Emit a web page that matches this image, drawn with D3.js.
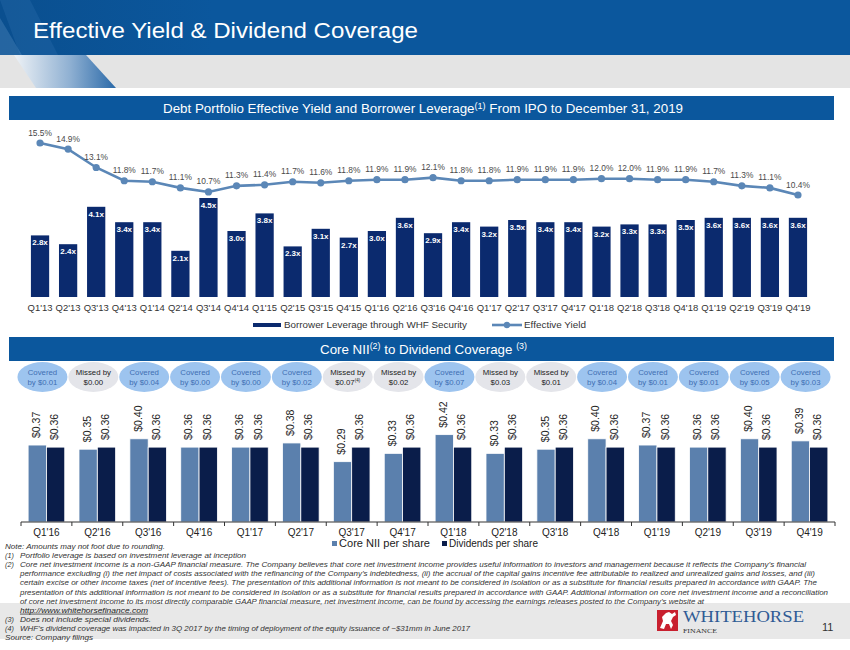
<!DOCTYPE html>
<html><head><meta charset="utf-8">
<script src="https://cdn.jsdelivr.net/npm/d3@7"></script>
<style>
body{margin:0;background:#fff}
svg{display:block;font-family:"Liberation Sans",Arial,sans-serif}
</style>
</head><body>
<svg id="c" width="850" height="650"></svg>
<script>
// ---------- DATA ----------
const quarters = ["Q1'13","Q2'13","Q3'13","Q4'13","Q1'14","Q2'14","Q3'14","Q4'14","Q1'15","Q2'15","Q3'15","Q4'15","Q1'16","Q2'16","Q3'16","Q4'16","Q1'17","Q2'17","Q3'17","Q4'17","Q1'18","Q2'18","Q3'18","Q4'18","Q1'19","Q2'19","Q3'19","Q4'19"];
const leverage = [2.8,2.4,4.1,3.4,3.4,2.1,4.5,3.0,3.8,2.3,3.1,2.7,3.0,3.6,2.9,3.4,3.2,3.5,3.4,3.4,3.2,3.3,3.3,3.5,3.6,3.6,3.6,3.6];
const effYield = [15.5,14.9,13.1,11.8,11.7,11.1,10.7,11.3,11.4,11.7,11.6,11.8,11.9,11.9,12.1,11.8,11.8,11.9,11.9,11.9,12.0,12.0,11.9,11.9,11.7,11.3,11.1,10.4];

const covQuarters = ["Q1'16","Q2'16","Q3'16","Q4'16","Q1'17","Q2'17","Q3'17","Q4'17","Q1'18","Q2'18","Q3'18","Q4'18","Q1'19","Q2'19","Q3'19","Q4'19"];
const coreNII = [0.37,0.35,0.40,0.36,0.36,0.38,0.29,0.33,0.42,0.33,0.35,0.40,0.37,0.36,0.40,0.39];
const dividends = [0.36,0.36,0.36,0.36,0.36,0.36,0.36,0.36,0.36,0.36,0.36,0.36,0.36,0.36,0.36,0.36];
const coverageStatus = ["covered","missed","covered","covered","covered","covered","missed","missed","covered","missed","missed","covered","covered","covered","covered","covered"];
const coverageLine1 = ["Covered","Missed by","Covered","Covered","Covered","Covered","Missed by","Missed by","Covered","Missed by","Missed by","Covered","Covered","Covered","Covered","Covered"];
const coverageLine2 = ["by $0.01","$0.00","by $0.04","by $0.00","by $0.00","by $0.02","$0.07","$0.02","by $0.07","$0.03","$0.01","by $0.04","by $0.01","by $0.01","by $0.05","by $0.03"];
const coverageNote = ["","","","","","","(4)","","","","","","","","",""];

const title = "Effective Yield & Dividend Coverage";
const footLines = [
  {m:"",   t:"Note: Amounts may not foot due to rounding.", w:160, x0:5},
  {m:"(1)",t:"Portfolio leverage is based on investment leverage at inception", w:226},
  {m:"(2)",t:"Core net investment income is a non-GAAP financial measure. The Company believes that core net investment income provides useful information to investors and management because it reflects the Company\u2019s financial", w:786},
  {m:"",   t:"performance excluding (i) the net impact of costs associated with the refinancing of the Company\u2019s indebtedness, (ii) the accrual of the capital gains incentive fee attributable to realized and unrealized gains and losses, and (iii)", w:795},
  {m:"",   t:"certain excise or other income taxes (net of incentive fees). The presentation of this additional information is not meant to be considered in isolation or as a substitute for financial results prepared in accordance with GAAP. The", w:797},
  {m:"",   t:"presentation of this additional information is not meant to be considered in isolation or as a substitute for financial results prepared in accordance with GAAP. Additional information on core net investment income and a reconciliation", w:808},
  {m:"",   t:"of core net investment income to its most directly comparable GAAP financial measure, net investment income, can be found by accessing the earnings releases posted to the Company\u2019s website at", w:684},
  {m:"",   t:"http://www.whitehorsefinance.com", w:128, u:true},
  {m:"(3)",t:"Does not include special dividends.", w:131},
  {m:"(4)",t:"WHF\u2019s dividend coverage was impacted in 3Q 2017 by the timing of deployment of the equity issuance of ~$31mm in June 2017", w:450},
  {m:"",   t:"Source: Company filings", w:88, x0:5}
];

// ---------- SETUP ----------
const svg = d3.select("#c");
const BLUE = "#0b579d";
const defs = svg.append("defs");
const g1 = defs.append("linearGradient").attr("id","shard").attr("x1","0").attr("x2","1").attr("y1","0").attr("y2","0");
g1.append("stop").attr("offset","0").attr("stop-color","#eef2f6");
g1.append("stop").attr("offset","0.55").attr("stop-color","#8fb0d2");
g1.append("stop").attr("offset","1").attr("stop-color","#2a69a8");
const g2 = defs.append("linearGradient").attr("id","hdr").attr("x1","0").attr("x2","1").attr("y1","0").attr("y2","0");
g2.append("stop").attr("offset","0").attr("stop-color","#0a4f8f");
g2.append("stop").attr("offset","0.25").attr("stop-color","#0b579d");
g2.append("stop").attr("offset","1").attr("stop-color","#0b579d");

// ---------- HEADER ----------
svg.append("rect").attr("x",0).attr("y",0).attr("width",850).attr("height",55).attr("fill","url(#hdr)");
svg.append("path").attr("d","M0,0 L30,0 L58,55 L20,55 Z").attr("fill","#2c6cab").attr("opacity",0.35);
svg.append("path").attr("d","M0,18 L22,55 L0,55 Z").attr("fill","#5a8fc2").attr("opacity",0.35);
svg.append("rect").attr("x",0).attr("y",55).attr("width",850).attr("height",33).attr("fill","#e4e4e4");
svg.append("path").attr("d","M14,55 L86,55 L116,88 L36,88 Z").attr("fill","url(#shard)");
svg.append("text").attr("x",33).attr("y",38).attr("fill","#fff").attr("font-size",22)
  .attr("textLength",385).attr("lengthAdjust","spacingAndGlyphs").text(title);

// Section bar 1
svg.append("rect").attr("x",9).attr("y",96).attr("width",825).attr("height",24).attr("fill",BLUE);
const st1 = svg.append("text").attr("x",163).attr("y",112.5).attr("fill","#fff").attr("font-weight","normal")
  .attr("font-size",12.5).attr("textLength",520).attr("lengthAdjust","spacingAndGlyphs");
st1.append("tspan").text("Debt Portfolio Effective Yield and Borrower Leverage");
st1.append("tspan").attr("font-size",8.5).attr("dy",-4).text("(1)");
st1.append("tspan").attr("dy",4).text(" From IPO to December 31, 2019");

// ---------- TOP CHART ----------
const xTop = d3.scaleBand().domain(quarters).range([26,812]).paddingInner(0.35).paddingOuter(0.175);
const yLev = d3.scaleLinear().domain([0,5]).range([297,187]);
const yYld = d3.scaleLinear().domain([8,16]).range([219.5,137.9]);

const topG = svg.append("g");
topG.selectAll("rect.lev").data(quarters).join("rect").attr("class","lev")
  .attr("x",d=>xTop(d)).attr("width",xTop.bandwidth())
  .attr("y",(d,i)=>yLev(leverage[i])).attr("height",(d,i)=>yLev(0)-yLev(leverage[i]))
  .attr("fill","#0b2a6e");
topG.selectAll("text.levl").data(quarters).join("text").attr("class","levl")
  .attr("x",d=>xTop(d)+xTop.bandwidth()/2).attr("y",(d,i)=>yLev(leverage[i])+10)
  .attr("text-anchor","middle").attr("fill","#fff").attr("font-size",8).attr("font-weight","bold")
  .text((d,i)=>leverage[i].toFixed(1)+"x");

// x axis labels
const axTop = d3.axisBottom(xTop).tickSize(0).tickPadding(6);
const axg = svg.append("g").attr("transform","translate(0,299)").call(axTop);
axg.select(".domain").remove();
axg.selectAll("text").attr("font-size",8.3).attr("fill","#333").attr("font-family","'Liberation Sans',Arial,sans-serif")
  .attr("textLength",25).attr("lengthAdjust","spacingAndGlyphs");

// yield line
const line = d3.line().x((d,i)=>xTop(quarters[i])+xTop.bandwidth()/2).y(d=>yYld(d));
topG.append("path").datum(effYield).attr("d",line).attr("fill","none").attr("stroke","#5b87b7").attr("stroke-width",2.6);
topG.selectAll("circle.y").data(effYield).join("circle").attr("class","y")
  .attr("cx",(d,i)=>xTop(quarters[i])+xTop.bandwidth()/2).attr("cy",d=>yYld(d)).attr("r",3.6).attr("fill","#5b87b7");
topG.selectAll("text.yl").data(effYield).join("text").attr("class","yl")
  .attr("x",(d,i)=>xTop(quarters[i])+xTop.bandwidth()/2).attr("y",d=>yYld(d)-7.5)
  .attr("text-anchor","middle").attr("fill","#4a4a4a").attr("font-size",8.4)
  .text(d=>d.toFixed(1)+"%");

// legend top
svg.append("line").attr("x1",253).attr("x2",281).attr("y1",325).attr("y2",325).attr("stroke","#0b2a6e").attr("stroke-width",4);
svg.append("text").attr("x",284).attr("y",328).attr("font-size",8.3).attr("fill","#333")
  .attr("textLength",183).attr("lengthAdjust","spacingAndGlyphs").text("Borrower Leverage through WHF Security");
svg.append("line").attr("x1",492).attr("x2",522).attr("y1",325).attr("y2",325).attr("stroke","#5b87b7").attr("stroke-width",2.6);
svg.append("circle").attr("cx",507).attr("cy",325).attr("r",3.2).attr("fill","#5b87b7");
svg.append("text").attr("x",524).attr("y",328).attr("font-size",8.3).attr("fill","#333")
  .attr("textLength",62).attr("lengthAdjust","spacingAndGlyphs").text("Effective Yield");

// Section bar 2
svg.append("rect").attr("x",9).attr("y",337).attr("width",825).attr("height",24).attr("fill",BLUE);
const st2 = svg.append("text").attr("x",320).attr("y",354).attr("fill","#fff").attr("font-size",13.5).attr("font-weight","normal")
  .attr("textLength",207).attr("lengthAdjust","spacingAndGlyphs");
st2.append("tspan").text("Core NII");
st2.append("tspan").attr("font-size",9).attr("dy",-5).text("(2)");
st2.append("tspan").attr("dy",5).text(" to Dividend Coverage ");
st2.append("tspan").attr("font-size",9).attr("dy",-5).text("(3)");

// ---------- BOTTOM CHART ----------
const xB = d3.scaleBand().domain(covQuarters).range([21,835]).paddingInner(0.28).paddingOuter(0.14);
const xSub = d3.scaleBand().domain(["core","div"]).range([0,xB.bandwidth()]);
const yB = d3.scaleLinear().domain([0,0.5]).range([522,418]);

// coverage ellipses
const ell = svg.append("g").selectAll("g").data(covQuarters).join("g")
  .attr("transform",d=>`translate(${xB(d)+xB.bandwidth()/2-4},377)`);
ell.append("ellipse").attr("rx",25).attr("ry",15)
  .attr("fill",(d,i)=>coverageStatus[i]==="covered"?"#9dc4ef":"#e4e5ea");
ell.append("text").attr("y",-2.5).attr("text-anchor","middle").attr("font-size",7.8)
  .attr("fill",(d,i)=>coverageStatus[i]==="covered"?"#3f6fb3":"#222")
  .text((d,i)=>coverageLine1[i]);
const l2 = ell.append("text").attr("y",7.5).attr("text-anchor","middle").attr("font-size",7.8)
  .attr("fill",(d,i)=>coverageStatus[i]==="covered"?"#3f6fb3":"#222");
l2.append("tspan").text((d,i)=>coverageLine2[i]);
l2.append("tspan").attr("font-size",4.5).attr("dy",-2.5).text((d,i)=>coverageNote[i]);

// bars
const grp = svg.append("g").selectAll("g").data(covQuarters).join("g").attr("transform",d=>`translate(${xB(d)},0)`);
grp.append("rect").attr("x",xSub("core")).attr("width",xSub.bandwidth())
  .attr("y",(d,i)=>yB(coreNII[i])).attr("height",(d,i)=>yB(0)-yB(coreNII[i]))
  .attr("fill","#5b80ad").attr("stroke","#fff").attr("stroke-width",0.8);
grp.append("rect").attr("x",xSub("div")).attr("width",xSub.bandwidth())
  .attr("y",(d,i)=>yB(dividends[i])).attr("height",(d,i)=>yB(0)-yB(dividends[i]))
  .attr("fill","#0a1d4a").attr("stroke","#fff").attr("stroke-width",0.8);
function vlabel(key, arr){
  grp.append("text")
    .attr("transform",(d,i)=>`translate(${xSub(key)+xSub.bandwidth()/2+2.5},${yB(arr[i])-7}) rotate(-90)`)
    .attr("font-size",10.5).attr("fill","#222")
    .text((d,i)=>"$"+arr[i].toFixed(2));
}
vlabel("core",coreNII);
vlabel("div",dividends);

// axis
const axB = d3.axisBottom(xB).tickSize(0).tickPadding(7);
const abg = svg.append("g").attr("transform","translate(0,522)").call(axB);
abg.select(".domain").attr("stroke","#333").attr("d","M21,0H835");
abg.selectAll("text").attr("font-size",10).attr("fill","#222").attr("font-family","'Liberation Sans',Arial,sans-serif");
const bounds = covQuarters.map(d=>xB(d)-xB.step()*xB.paddingInner()/2).concat([835]);
abg.selectAll("line.tk").data(bounds).join("line").attr("class","tk")
  .attr("x1",d=>d).attr("x2",d=>d).attr("y1",0).attr("y2",4).attr("stroke","#333");

// bottom legend
svg.append("rect").attr("x",332).attr("y",541).attr("width",5).attr("height",5).attr("fill","#5b80ad");
svg.append("text").attr("x",339).attr("y",547).attr("font-size",10.3).attr("fill","#222")
  .attr("textLength",91).attr("lengthAdjust","spacingAndGlyphs").text("Core NII per share");
svg.append("rect").attr("x",442).attr("y",541).attr("width",5).attr("height",5).attr("fill","#0a1d4a");
svg.append("text").attr("x",449).attr("y",547).attr("font-size",10.3).attr("fill","#222")
  .attr("textLength",89).attr("lengthAdjust","spacingAndGlyphs").text("Dividends per share");

// ---------- FOOTER ----------
svg.append("rect").attr("x",0).attr("y",603).attr("width",850).attr("height",36).attr("fill","#e8e8e8");
const fy0 = 549;
footLines.forEach((f,i)=>{
  const y = fy0 + i*9.1;
  if(f.m) svg.append("text").attr("x",5).attr("y",y).attr("font-size",7.2).attr("font-style","italic").attr("fill","#333").text(f.m);
  const t = svg.append("text").attr("x",f.x0!==undefined?f.x0:20).attr("y",y).attr("font-size",7.2)
    .attr("font-style","italic").attr("fill","#333")
    .attr("textLength",f.w).attr("lengthAdjust","spacingAndGlyphs").text(f.t);
  if(f.u) t.attr("text-decoration","underline").attr("fill","#222");
});

// logo
const logo = svg.append("g");
logo.append("rect").attr("x",657).attr("y",610).attr("width",21).attr("height",21).attr("fill","#c8202f");
logo.append("path").attr("fill","#fff")
  .attr("d","M660,628 L663,621 L662,617 L666,613 L669,612 L672,614 L675,612 L676,615 L673,617 L671,621 L673,625 L671,629 L669,624 L666,624 L664,629 Z");
logo.append("text").attr("x",683).attr("y",621.5).attr("font-family","'Liberation Serif','DejaVu Serif',serif")
  .attr("font-size",16).attr("fill","#2f5b95").attr("textLength",121).attr("lengthAdjust","spacingAndGlyphs").text("WHITEHORSE");
logo.append("text").attr("x",683).attr("y",633).attr("font-family","'Liberation Serif','DejaVu Serif',serif")
  .attr("font-size",7).attr("fill","#333").attr("textLength",34).attr("lengthAdjust","spacingAndGlyphs").text("FINANCE");
svg.append("text").attr("x",822).attr("y",631).attr("font-size",11).attr("fill","#333").text("11");
</script>
</body></html>
